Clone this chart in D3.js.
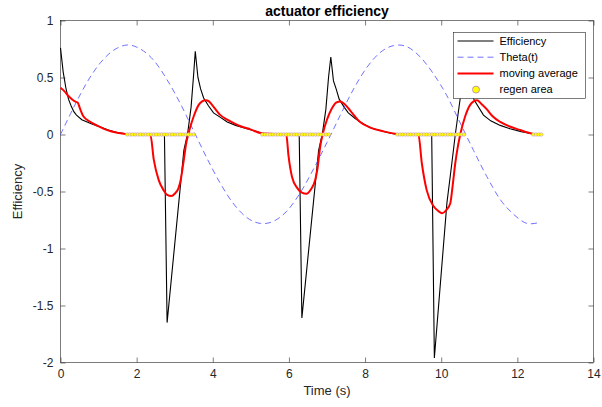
<!DOCTYPE html>
<html lang="en">
<head>
    <meta charset="UTF-8">
    <title>actuator efficiency</title>
    <script src="https://d3js.org/d3.v7.min.js"></script>
    <style>
        body {
            margin: 0;
            background-color: white;
            font-family: 'Liberation Sans', Arial, sans-serif;
        }
        svg { display: block; }
        .tick-label { font-size: 12px; fill: #262626; }
    </style>
</head>
<body>
    <svg width="602" height="407"></svg>

    <script>
        // values, [time (s), value]
        const efficiency = [
            [0, 0.76], [0.07, 0.55], [0.14, 0.41], [0.21, 0.31], [0.28, 0.25], [0.35, 0.20],
            [0.42, 0.17], [0.56, 0.13], [0.70, 0.11], [0.84, 0.09], [1.05, 0.065], [1.26, 0.04],
            [1.47, 0.02], [1.75, 0.005], [2.73, 0],
            [2.80, -1.65], [3.24, -0.14], [3.34, 0.01], [3.43, 0.24], [3.50, 0.54], [3.54, 0.73],
            [3.61, 0.50], [3.68, 0.40], [3.76, 0.32], [3.89, 0.25], [4.02, 0.19], [4.20, 0.15],
            [4.38, 0.11], [4.60, 0.08], [4.90, 0.05], [5.10, 0.03], [5.29, 0.01], [6.27, 0],
            [6.34, -1.61], [6.78, -0.14], [6.88, 0.01], [6.97, 0.22], [7.04, 0.50], [7.10, 0.68],
            [7.17, 0.47], [7.24, 0.40], [7.32, 0.31], [7.45, 0.24], [7.56, 0.19], [7.74, 0.14],
            [7.92, 0.10], [8.14, 0.06], [8.44, 0.03], [8.70, 0.01], [8.85, 0], [9.75, 0],
            [9.82, -1.96], [10.15, -0.60], [10.28, -0.25], [10.37, 0], [10.50, 0.32], [10.57, 0.55],
            [10.62, 0.66], [10.69, 0.46], [10.76, 0.38], [10.87, 0.30], [11.11, 0.17], [11.30, 0.12],
            [11.55, 0.08], [11.81, 0.05], [12.10, 0.025], [12.42, 0.005], [12.60, 0]
        ];

        const theta = [
            [0, 0], [0.35, 0.24], [0.70, 0.46], [1.05, 0.63], [1.40, 0.74], [1.75, 0.785],
            [2.10, 0.75], [2.45, 0.65], [2.80, 0.48], [3.15, 0.27], [3.50, 0.03], [3.85, -0.21],
            [4.20, -0.43], [4.55, -0.61], [4.90, -0.73], [5.25, -0.78], [5.60, -0.76], [5.95, -0.67],
            [6.30, -0.51], [6.65, -0.30], [7.00, -0.07], [7.35, 0.17], [7.70, 0.40], [8.05, 0.59],
            [8.40, 0.72], [8.75, 0.78], [9.10, 0.77], [9.45, 0.68], [9.80, 0.53], [10.15, 0.34],
            [10.50, 0.10], [10.85, -0.14], [11.20, -0.37], [11.55, -0.57], [11.90, -0.70],
            [12.25, -0.78], [12.60, -0.77]
        ];

        const movingAverage = [
            [0, 0.41], [0.10, 0.38], [0.20, 0.34], [0.30, 0.31], [0.38, 0.29], [0.45, 0.28],
            [0.52, 0.22], [0.60, 0.16], [0.79, 0.11], [0.95, 0.08], [1.14, 0.05], [1.30, 0.03],
            [1.49, 0.016], [1.75, 0.003], [2.36, 0],
            [2.45, -0.22], [2.58, -0.40], [2.71, -0.49], [2.80, -0.53], [2.91, -0.54], [3.00, -0.52],
            [3.10, -0.47], [3.15, -0.41], [3.24, -0.22], [3.30, -0.08], [3.37, 0.02], [3.50, 0.16],
            [3.63, 0.26], [3.72, 0.29], [3.81, 0.30], [3.90, 0.29], [3.98, 0.26], [4.20, 0.17],
            [4.38, 0.13], [4.55, 0.10], [4.75, 0.07], [4.99, 0.045], [5.29, 0.01], [5.93, 0],
            [5.99, -0.19], [6.08, -0.37], [6.22, -0.47], [6.34, -0.51], [6.46, -0.52], [6.58, -0.48],
            [6.69, -0.40], [6.75, -0.30], [6.82, -0.11], [6.90, 0.02], [7.00, 0.13], [7.13, 0.23],
            [7.24, 0.28], [7.35, 0.29], [7.45, 0.27], [7.61, 0.21], [7.87, 0.11], [8.14, 0.06],
            [8.45, 0.03], [8.85, 0.005], [9.40, 0],
            [9.49, -0.25], [9.62, -0.49], [9.80, -0.63], [9.92, -0.67], [10.02, -0.69], [10.14, -0.66],
            [10.24, -0.60], [10.30, -0.45], [10.37, -0.25], [10.44, -0.10], [10.50, 0.0], [10.63, 0.16],
            [10.76, 0.26], [10.85, 0.29], [10.94, 0.30], [11.05, 0.27], [11.20, 0.22], [11.35, 0.16],
            [11.55, 0.11], [11.80, 0.07], [12.07, 0.04], [12.25, 0.02], [12.42, 0.005]
        ];

        // times of the regen area markers (all drawn at efficiency 0)
        const regenTimes = [
            1.75, 1.82, 1.89, 1.96, 2.03, 2.10, 2.17, 2.24, 2.31, 2.38, 2.45, 2.52, 2.59,
            2.66, 2.73, 2.80, 2.87, 2.94, 3.01, 3.08, 3.15, 3.22, 3.29, 3.36, 3.43, 3.50,
            5.30, 5.37, 5.44, 5.51, 5.58, 5.65, 5.72, 5.79, 5.86, 5.93, 6.00, 6.07, 6.14,
            6.21, 6.28, 6.35, 6.42, 6.49, 6.56, 6.63, 6.70, 6.77, 6.84, 6.91, 6.98, 7.05,
            8.85, 8.92, 8.99, 9.06, 9.13, 9.20, 9.27, 9.34, 9.41, 9.48, 9.55, 9.62, 9.69,
            9.76, 9.83, 9.90, 9.97, 10.04, 10.11, 10.18, 10.25, 10.32, 10.39, 10.46, 10.53, 10.60,
            12.42, 12.49, 12.56, 12.63
        ];

        const xTicks = [0, 2, 4, 6, 8, 10, 12, 14];
        const yTicks = [-2, -1.5, -1, -0.5, 0, 0.5, 1];
        const legendLabels = ["Efficiency", "Theta(t)", "moving average", "regen area"];

        const svg = d3.select("svg"),
            margin = {top: 20.5, right: 8.5, bottom: 44.5, left: 60.5},
            width = +svg.attr("width") - margin.left - margin.right,
            height = +svg.attr("height") - margin.top - margin.bottom,
            g = svg.append("g").attr("transform", `translate(${margin.left},${margin.top})`);

        const x = d3.scaleLinear().domain([0, 14]).range([0, width]);
        const y = d3.scaleLinear().domain([-2, 1]).range([height, 0]);

        const axisColor = "#262626";
        const tickLen = 5;
        const fmt = d => String(d);   // MATLAB style: 0.5, -1.5, plain hyphen

        // box and ticks, MATLAB style (ticks inside on all sides)
        const styleAxis = sel => sel
            .call(s => s.select(".domain").remove())
            .call(s => s.selectAll(".tick line").attr("stroke", axisColor).attr("stroke-width", 0.6))
            .call(s => s.selectAll(".tick text").attr("class", "tick-label")
                .style("font-family", "'Liberation Sans', Arial, sans-serif"));

        g.append("g")
            .attr("transform", `translate(0,${height})`)
            .call(d3.axisBottom(x).tickValues(xTicks).tickFormat(fmt)
                .tickSizeInner(-tickLen).tickSizeOuter(0).tickPadding(7))
            .call(styleAxis);
        g.append("g")
            .call(d3.axisTop(x).tickValues(xTicks).tickSizeInner(-tickLen).tickSizeOuter(0).tickFormat(""))
            .call(styleAxis);
        g.append("g")
            .call(d3.axisLeft(y).tickValues(yTicks).tickFormat(fmt)
                .tickSizeInner(-tickLen).tickSizeOuter(0).tickPadding(7))
            .call(styleAxis);
        g.append("g")
            .attr("transform", `translate(${width},0)`)
            .call(d3.axisRight(y).tickValues(yTicks).tickSizeInner(-tickLen).tickSizeOuter(0).tickFormat(""))
            .call(styleAxis);

        g.append("rect")
            .attr("width", width)
            .attr("height", height)
            .attr("fill", "none")
            .attr("stroke", axisColor)
            .attr("stroke-width", 0.6);

        const line = d3.line()
            .x(d => x(d[0]))
            .y(d => y(d[1]));

        g.append("path")
            .datum(efficiency)
            .attr("fill", "none")
            .attr("stroke", "black")
            .attr("stroke-width", 1.1)
            .attr("d", line);

        g.append("path")
            .datum(theta)
            .attr("fill", "none")
            .attr("stroke", "#4d4dff")
            .attr("stroke-width", 0.8)
            .attr("stroke-dasharray", "6,4")
            .attr("d", line.curve(d3.curveCardinal));

        g.append("path")
            .datum(movingAverage)
            .attr("fill", "none")
            .attr("stroke", "#ff0000")
            .attr("stroke-width", 2)
            .attr("d", d3.line().x(d => x(d[0])).y(d => y(d[1])).curve(d3.curveMonotoneX));

        g.selectAll(".regen")
            .data(regenTimes)
            .join("circle")
            .attr("class", "regen")
            .attr("cx", d => x(d))
            .attr("cy", y(0))
            .attr("r", 1.8)
            .attr("fill", "#ffff00")
            .attr("stroke", "#c38fd0")
            .attr("stroke-width", 0.5);

        // title and axis labels
        svg.append("text")
            .attr("x", margin.left + width / 2)
            .attr("y", 16)
            .attr("text-anchor", "middle")
            .style("font-size", "14px")
            .style("font-weight", "bold")
            .attr("fill", "black")
            .text("actuator efficiency");

        svg.append("text")
            .attr("x", margin.left + width / 2)
            .attr("y", 395)
            .attr("text-anchor", "middle")
            .style("font-size", "13px")
            .attr("fill", axisColor)
            .text("Time (s)");

        svg.append("text")
            .attr("transform", `translate(22, ${margin.top + height / 2}) rotate(-90)`)
            .attr("text-anchor", "middle")
            .style("font-size", "13px")
            .attr("fill", axisColor)
            .text("Efficiency");

        // legend
        const legend = svg.append("g").attr("transform", "translate(453.5,32.5)");
        legend.append("rect")
            .attr("width", 132)
            .attr("height", 66)
            .attr("fill", "white")
            .attr("stroke", axisColor)
            .attr("stroke-width", 0.6);

        const rowY = i => 8.5 + i * 16.2;
        const legendStyles = [
            {stroke: "black", width: 1.1, dash: null},
            {stroke: "#4d4dff", width: 0.8, dash: "6,4"},
            {stroke: "#ff0000", width: 2, dash: null}
        ];
        legendStyles.forEach((s, i) => {
            legend.append("line")
                .attr("x1", 4).attr("x2", 40)
                .attr("y1", rowY(i)).attr("y2", rowY(i))
                .attr("stroke", s.stroke)
                .attr("stroke-width", s.width)
                .attr("stroke-dasharray", s.dash);
        });
        legend.append("circle")
            .attr("cx", 22.5)
            .attr("cy", rowY(3))
            .attr("r", 3.5)
            .attr("fill", "#ffff00")
            .attr("stroke", "#b07cc0")
            .attr("stroke-width", 0.8);

        legendLabels.forEach((label, i) => {
            legend.append("text")
                .attr("x", 46)
                .attr("y", rowY(i))
                .attr("dy", "0.35em")
                .style("font-size", "11px")
                .attr("fill", "black")
                .text(label);
        });
    </script>
</body>
</html>
